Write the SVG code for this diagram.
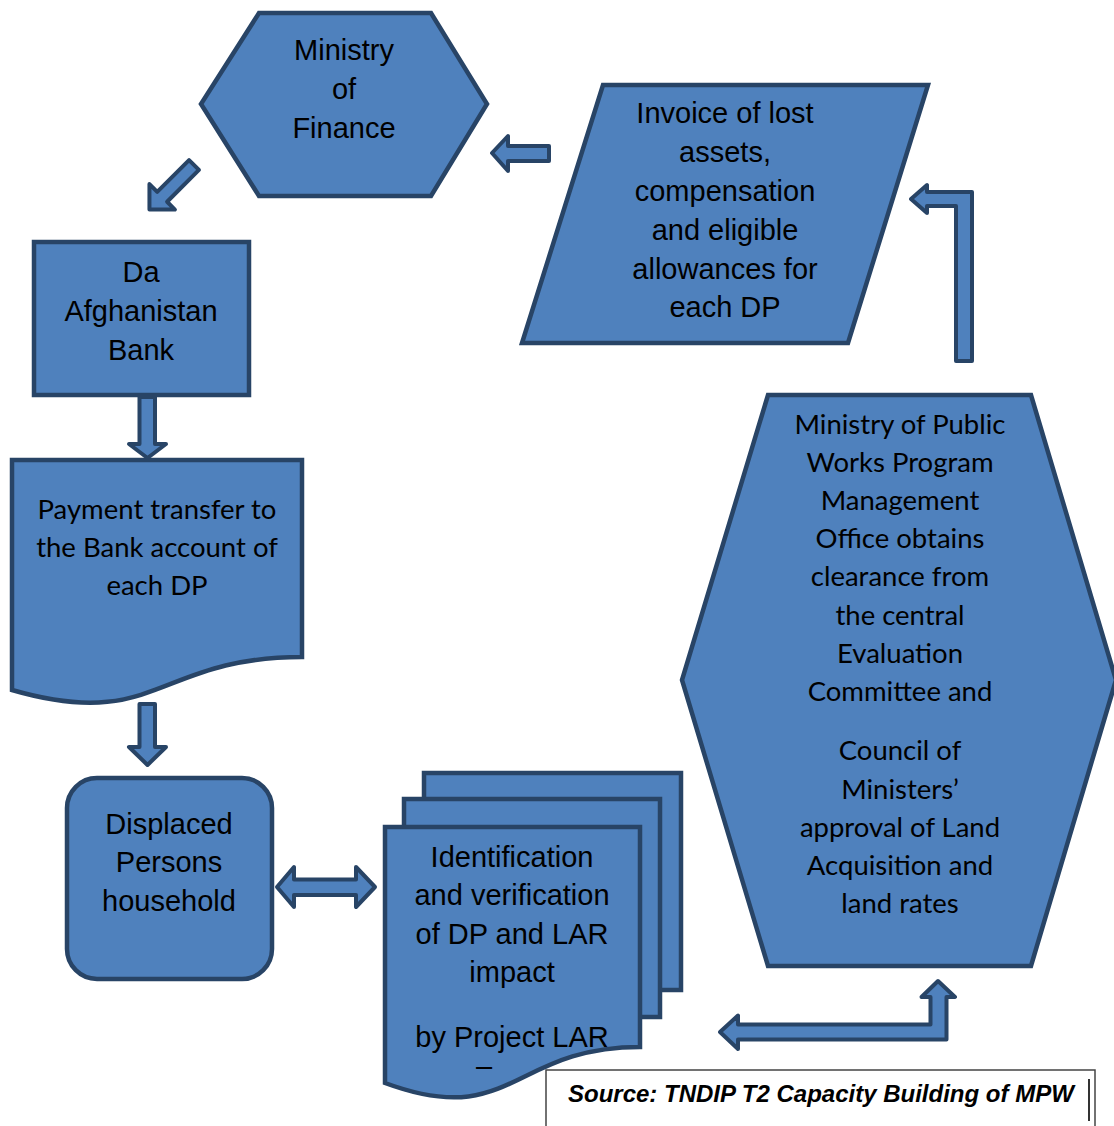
<svg xmlns="http://www.w3.org/2000/svg" width="1114" height="1126" viewBox="0 0 1114 1126">
<style>
.shape{fill:#4f81bd;stroke:#284466;stroke-width:4.5;stroke-linejoin:miter}
.arrow{fill:#4f81bd;stroke:#284466;stroke-width:4;stroke-linejoin:round}
.ta{font-family:"Liberation Sans",Arial,sans-serif;font-size:29px;fill:#000;text-anchor:middle}
.tc{font-family:Lato,"Open Sans",sans-serif;font-size:27.5px;fill:#000;text-anchor:middle}
.src{font-family:"Liberation Sans",Arial,sans-serif;font-size:24px;font-weight:bold;font-style:italic;fill:#000}
.frame{fill:none;stroke:#444;stroke-width:1.5}
</style>
<rect width="1114" height="1126" fill="#fff"/>

<g id="connectors">
<path class="arrow" d="M492,153 L508,136 L508,146 L549,146 L549,161 L508,161 L508,171 Z"/>
<path class="arrow" transform="translate(194,165) rotate(135)" d="M0,-7 H45 V-18 L63,0 L45,18 V7 H0 Z"/>
<path class="arrow" d="M139.5,397 H155 V444 H166 L147.5,458 L129,444 H139.5 Z"/>
<path class="arrow" d="M139.5,704 H155 V747 H166 L147.5,765 L129,747 H139.5 Z"/>
<path class="arrow" d="M277,887 L294,867 V879.5 H356 V867 L375,887 L356,907 V895 H294 V907 Z"/>
<path class="arrow" d="M911,199 L927,185 V192 H972 V361 H956 V206 H927 V213 Z"/>
<path class="arrow" d="M720,1032 L738,1015.5 V1024.5 H930.5 V997 H921.5 L938,981 L955,997 H946.5 V1039.5 H738 V1049 Z"/>
</g>

<g id="ministry-finance">
<polygon class="shape" points="259,13 431,13 487,104 431,196 259,196 201,104"/>
<text class="ta" x="344" y="60">Ministry</text>
<text class="ta" x="344" y="99">of</text>
<text class="ta" x="344" y="138">Finance</text>
</g>

<g id="invoice">
<polygon class="shape" points="603,85 928,85 848,343 522,343"/>
<text class="ta" x="725" y="123">Invoice of lost</text>
<text class="ta" x="725" y="162">assets,</text>
<text class="ta" x="725" y="201">compensation</text>
<text class="ta" x="725" y="240">and eligible</text>
<text class="ta" x="725" y="279">allowances for</text>
<text class="ta" x="725" y="317">each DP</text>
</g>

<g id="bank">
<rect class="shape" x="34" y="242" width="215" height="153"/>
<text class="ta" x="141" y="282">Da</text>
<text class="ta" x="141" y="321">Afghanistan</text>
<text class="ta" x="141" y="360">Bank</text>
</g>

<g id="payment">
<path class="shape" d="M12,460 H302 V657 C157,657 157,732 12,690 Z"/>
<text class="tc" x="157" y="519">Payment transfer to</text>
<text class="tc" x="157" y="557">the Bank account of</text>
<text class="tc" x="157" y="595">each DP</text>
</g>

<g id="displaced">
<rect class="shape" x="67" y="778" width="205" height="201" rx="30" ry="30"/>
<text class="ta" x="169" y="834">Displaced</text>
<text class="ta" x="169" y="872">Persons</text>
<text class="ta" x="169" y="911">household</text>
</g>

<g id="identification">
<rect class="shape" x="424" y="773" width="257" height="217"/>
<rect class="shape" x="404" y="799" width="256" height="218"/>
<path class="shape" d="M385,827 H640 V1047 C512,1047 512,1130 385,1083 Z"/>
<text class="ta" x="512" y="867">Identification</text>
<text class="ta" x="512" y="905">and verification</text>
<text class="ta" x="512" y="944">of DP and LAR</text>
<text class="ta" x="512" y="982">impact</text>
<text class="ta" x="512" y="1047">by Project LAR</text>
<text class="ta" x="484" y="1076">–</text>
</g>

<g id="mpw">
<polygon class="shape" points="768,395 1031,395 1116,680 1031,966 768,966 682,680"/>
<text class="tc" x="900" y="434">Ministry of Public</text>
<text class="tc" x="900" y="472">Works Program</text>
<text class="tc" x="900" y="510">Management</text>
<text class="tc" x="900" y="548">Office obtains</text>
<text class="tc" x="900" y="586">clearance from</text>
<text class="tc" x="900" y="625">the central</text>
<text class="tc" x="900" y="663">Evaluation</text>
<text class="tc" x="900" y="701">Committee and</text>
<text class="tc" x="900" y="760">Council of</text>
<text class="tc" x="900" y="799">Ministers’</text>
<text class="tc" x="900" y="837">approval of Land</text>
<text class="tc" x="900" y="875">Acquisition and</text>
<text class="tc" x="900" y="913">land rates</text>
</g>

<g id="source">
<path class="frame" d="M546,1126 V1070 H1095 V1126"/>
<line x1="1089" y1="1079" x2="1089" y2="1121" stroke="#333" stroke-width="2"/>
<text class="src" x="568" y="1102">Source: TNDIP T2 Capacity Building of MPW</text>
</g>
</svg>
